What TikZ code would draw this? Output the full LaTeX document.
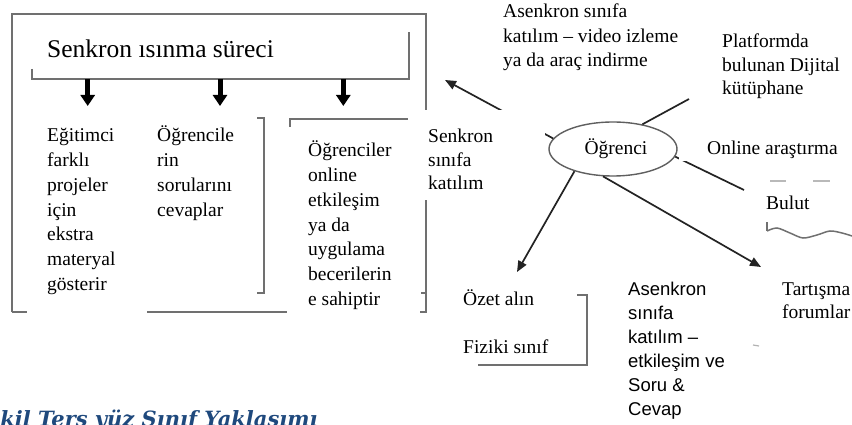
\documentclass[tikz,border=0pt]{standalone}
\usepackage{fontspec}
\setmainfont{Liberation Serif}
\newfontfamily\sansf{Liberation Sans}
\newfontfamily\capf{DejaVu Serif}
\usetikzlibrary{arrows.meta,shapes.geometric}
\definecolor{boxgray}{RGB}{112,112,112}
\definecolor{ellgray}{RGB}{95,95,95}
\definecolor{capblue}{RGB}{31,73,125}
\definecolor{conn}{RGB}{35,35,35}
\newcommand{\mlines}[2]{\vtop{\baselineskip=#1pt\relax\lineskiplimit=-1000pt\relax#2}}
\newcommand{\oneline}[1]{\hbox{#1}}
\begin{document}
\begin{tikzpicture}[x=1pt,y=-1pt,
  boxline/.style={draw=boxgray,line width=2pt},
  thinbox/.style={draw=boxgray,line width=1.5pt},
  thickarrow/.style={draw=black,line width=5pt,-{Triangle[length=11pt,width=14pt]}},
  connline/.style={draw=conn,line width=1.7pt},
  connarrow/.style={connline,-{Triangle[length=11pt,width=9pt]}},
  body/.style={inner sep=0pt,anchor=base west,font=\fontsize{19.5}{24}\selectfont},
  sanstext/.style={body,font=\sansf\fontsize{18.5}{24}\selectfont},
  mask/.style={fill=white,draw=none}]
\useasboundingbox (0,0) rectangle (852,425);
\clip (0,0) rectangle (852,425);
\fill[white] (0,0) rectangle (852,425);
% outer frame (visible pieces)
\draw[boxline] (12,312) -- (12,14) -- (426,14) -- (426,312) -- (420,312);
\draw[boxline] (12,312) -- (27,312);
\draw[boxline] (147,312) -- (287,312);
\draw[boxline] (421,293) -- (426,293);
% inner title frame
\draw[boxline] (32,69) -- (32,79) -- (409,79) -- (409,32);
% bracket of second column
\draw[boxline] (257,118) -- (264,118) -- (264,293) -- (257,293);
% third box top
\draw[boxline] (290,127) -- (290,119) -- (408,119);
% bracket of Ozet box
\draw[boxline] (577,295) -- (587,295) -- (587,365) -- (478,365);
% thick arrows
\coordinate (t1) at (87.7,79); \coordinate (h1) at (87.7,106);
\coordinate (t2) at (220,79);  \coordinate (h2) at (220,106);
\coordinate (t3) at (343.3,79); \coordinate (h3) at (343.3,106);
\draw[thickarrow] (t1) -- (h1);
\draw[thickarrow] (t2) -- (h2);
\draw[thickarrow] (t3) -- (h3);
% central ellipse
\node[ellipse,draw=ellgray,line width=1.4pt,minimum width=128pt,minimum height=54pt,
      inner sep=0pt,font=\fontsize{19.5}{24}\selectfont] (ogr) at (613,149) {\hspace*{6pt}Öğrenci};
% connector ends
\coordinate (cul) at (445,80);
\coordinate (cpl) at (689,99);
\coordinate (cbu) at (744,190);
\coordinate (cta) at (761,267);
\coordinate (coz) at (517,272);
\draw[connarrow] (ogr.170) -- (cul);
\draw[connline] (ogr.40) -- (cpl);
\draw[connline] (ogr.-7) -- (cbu);
\draw[connarrow] (ogr.250) -- (cta);
\draw[connarrow] (ogr.210) -- (coz);
% white text boxes hiding lines
\fill[mask] (408,110) rectangle (545,200);
\fill[mask] (679,127) rectangle (852,161);
% Bulut shape fragments
\draw[thinbox] plot[smooth] coordinates {(767,222) (767,231)};
\draw[thinbox] plot[smooth] coordinates {(767,231) (777,228) (790,233) (803,238) (817,235) (830,231) (842,233) (852,236)};
\draw[draw=gray!55,line width=1.2pt] (770,181) -- (786,181);
\draw[draw=gray!55,line width=1.2pt] (813,181) -- (830,181);
\draw[draw=gray!60,line width=1.2pt] (753,345) -- (759,346);
% texts
\node[body,font=\fontsize{25.5}{30}\selectfont] (title) at (47,58) {Senkron ısınma süreci};
\node[body] (col1) at (47,142) {\mlines{24.7}{\oneline{Eğitimci}\oneline{farklı}\oneline{projeler}\oneline{için}\oneline{ekstra}\oneline{materyal}\oneline{gösterir}}};
\node[body] (col2) at (157,142) {\mlines{24.7}{\oneline{Öğrencile}\oneline{rin}\oneline{sorularını}\oneline{cevaplar}}};
\node[body] (col3) at (308,157) {\mlines{24.7}{\oneline{Öğrenciler}\oneline{online}\oneline{etkileşim}\oneline{ya da}\oneline{uygulama}\oneline{becerilerin}\oneline{e sahiptir}}};
\node[body] (asv) at (503,18) {\mlines{24.5}{\oneline{Asenkron sınıfa}\oneline{katılım – video izleme}\oneline{ya da araç indirme}}};
\node[body] (plat) at (722,48) {\mlines{23.5}{\oneline{Platformda}\oneline{bulunan Dijital}\oneline{kütüphane}}};
\node[body] (senk) at (428,143) {\mlines{23.5}{\oneline{Senkron}\oneline{sınıfa}\oneline{katılım}}};
\node[body] (onl) at (707,155) {Online araştırma};
\node[body] (bul) at (766,210) {Bulut};
\node[body] (oz) at (463,305) {Özet alın};
\node[body] (fiz) at (463,353) {Fiziki sınıf};
\node[sanstext] (asen) at (628,295) {\mlines{24}{\oneline{Asenkron}\oneline{sınıfa}\oneline{katılım –}\oneline{etkileşim ve}\oneline{Soru \&}\oneline{Cevap}}};
\node[body] (tart) at (782,295) {\mlines{23.5}{\oneline{Tartışma}\oneline{forumlar}}};
\node[inner sep=0pt,anchor=base west,text=capblue,font=\capf\bfseries\itshape\fontsize{21}{24}\selectfont] (cap) at (38,426) {\llap{Şekil }Ters yüz Sınıf Yaklaşımı};
\end{tikzpicture}
\end{document}
